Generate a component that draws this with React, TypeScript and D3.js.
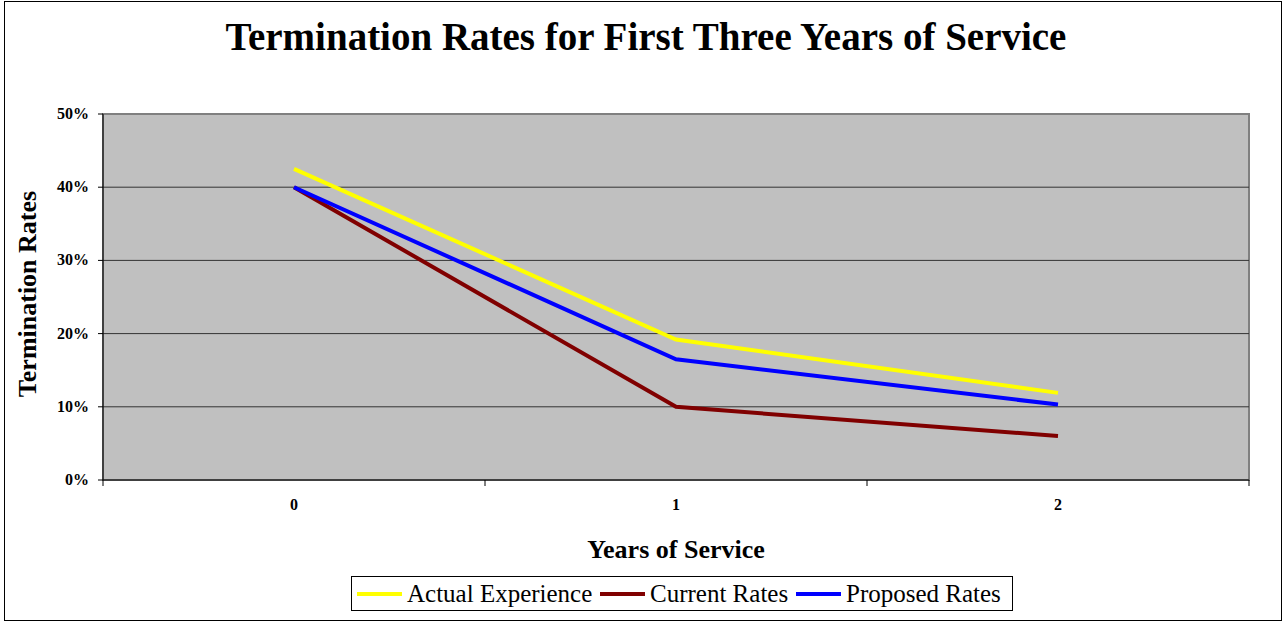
import React from "react";
import * as d3 from "d3";

const categories = ["0", "1", "2"];
const actualExperience = [0.425, 0.192, 0.119];
const currentRates = [0.40, 0.100, 0.060];
const proposedRates = [0.40, 0.165, 0.103];
const yTicks = [0, 0.1, 0.2, 0.3, 0.4, 0.5];

const series = [
  { name: "Actual Experience", values: actualExperience, color: "#ffff00" },
  { name: "Current Rates", values: currentRates, color: "#800000" },
  { name: "Proposed Rates", values: proposedRates, color: "#0000ff" },
];

export default function App() {
  const W = 1286, H = 622;
  const left = 103, right = 1249, top = 114, bottom = 480;
  const x = d3.scaleBand<string>().domain(categories).range([left, right]);
  const y = d3.scaleLinear().domain([0, 0.5]).range([bottom, top]);
  const line = d3
    .line<number>()
    .x((_, i) => (x(categories[i]) as number) + x.bandwidth() / 2)
    .y((d) => y(d));
  const font = "'Times New Roman', 'Liberation Serif', serif";
  const boundaries = categories.map((c) => x(c) as number).concat([right]);

  const legendItems = [
    { ...series[0], tx: 407 },
    { ...series[1], tx: 650 },
    { ...series[2], tx: 846 },
  ];

  return (
    <svg
      width={W}
      height={H}
      style={{ position: "absolute", left: 0, top: 0, background: "#fff" }}
      fontFamily={font}
    >
      <rect x={4.5} y={1.5} width={1277} height={619} fill="#fff" stroke="#000" strokeWidth={1} />
      <text x={646} y={50} textAnchor="middle" fontSize={39} fontWeight="bold">
        Termination Rates for First Three Years of Service
      </text>
      <rect x={left} y={top} width={right - left} height={bottom - top} fill="#c0c0c0" stroke="#808080" strokeWidth={2} />
      {yTicks.map((t) => (
        <g key={t}>
          {t > 0 && t < 0.5 && (
            <line x1={left} x2={right} y1={y(t)} y2={y(t)} stroke="#333" strokeWidth={1} />
          )}
          <line x1={left - 5} x2={left} y1={y(t)} y2={y(t)} stroke="#000" />
          <text x={left - 14} y={y(t) + 5} textAnchor="end" fontSize={16} fontWeight="bold">
            {d3.format(".0%")(t)}
          </text>
        </g>
      ))}
      <line x1={left} x2={left} y1={top} y2={bottom} stroke="#000" />
      <line x1={left} x2={right} y1={bottom} y2={bottom} stroke="#000" />
      {boundaries.map((b, i) => (
        <line key={i} x1={b} x2={b} y1={bottom} y2={bottom + 6} stroke="#000" />
      ))}
      {categories.map((c) => (
        <text
          key={c}
          x={(x(c) as number) + x.bandwidth() / 2}
          y={510}
          textAnchor="middle"
          fontSize={16}
          fontWeight="bold"
        >
          {c}
        </text>
      ))}
      {series.map((s) => (
        <path key={s.name} d={line(s.values) as string} fill="none" stroke={s.color} strokeWidth={4} />
      ))}
      <text x={676} y={558} textAnchor="middle" fontSize={26} fontWeight="bold">
        Years of Service
      </text>
      <text
        transform={`translate(36,${(top + bottom) / 2 - 3}) rotate(-90)`}
        textAnchor="middle"
        fontSize={26}
        fontWeight="bold"
      >
        Termination Rates
      </text>
      <rect x={351.5} y={576.5} width={661} height={34} fill="#fff" stroke="#000" />
      {legendItems.map((s) => (
        <g key={s.name}>
          <line x1={s.tx - 50} x2={s.tx - 5} y1={594} y2={594} stroke={s.color} strokeWidth={4} />
          <text x={s.tx} y={602} fontSize={25}>
            {s.name}
          </text>
        </g>
      ))}
    </svg>
  );
}
